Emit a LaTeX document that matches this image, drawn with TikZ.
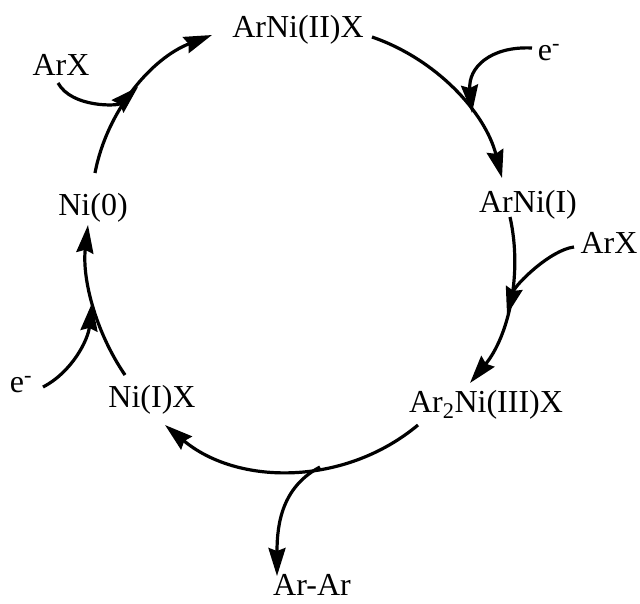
\documentclass[tikz,border=0pt]{standalone}
\usepackage{fontspec}
\setmainfont{Liberation Serif}
\usetikzlibrary{arrows.meta}
\begin{document}
\begin{tikzpicture}[x=1pt,y=-1pt,
  lbl/.style={anchor=base, inner sep=0pt, font=\fontsize{32}{38}\selectfont},
  rxn/.style={line width=3.2pt, -{Stealth[length=28pt,width=17pt,inset=3pt]}}]
\useasboundingbox (0,0) rectangle (640,603);
% species
\node[lbl] (arni2) at (298,37) {ArNi(II)X};
\node[lbl] (arx1)  at (61,75)  {ArX};
\node[lbl] (ni0)   at (93,215) {Ni(0)};
\node[lbl] (e1)    at (549,60) {e\textsuperscript{-}};
\node[lbl] (arni1) at (528,212) {ArNi(I)};
\node[lbl] (arx2)  at (609,253) {ArX};
\node[lbl] (ar2ni3) at (486,412) {Ar\textsubscript{2}Ni(III)X};
\node[lbl] (ni1x)  at (152,407) {Ni(I)X};
\node[lbl] (e2)    at (21,392) {e\textsuperscript{-}};
\node[lbl] (arar)  at (312,595) {Ar-Ar};
% junctions on the cycle
\coordinate (j1) at (138,87);
\coordinate (j2) at (472,113);
\coordinate (j3) at (507,315);
\coordinate (j4) at (320,467);
\coordinate (j5) at (92,303);
% main cycle
\draw[rxn] ([shift={(2,-42)}]ni0.base) .. controls +(12,-63) and +(-60,23) .. ([shift={(-86,-2)}]arni2.base);
\draw[rxn] ([shift={(74,0)}]arni2.base) .. controls +(64,22) and +(-17,-66) .. ([shift={(-26,-34)}]arni1.base);
\draw[rxn] ([shift={(-18,5)}]arni1.base) .. controls +(13,58) and +(38,-46) .. ([shift={(-16,-29)}]ar2ni3.base);
\draw[rxn] ([shift={(-68,13)}]ar2ni3.base) .. controls +(-73,61) and +(73,61) .. ([shift={(13,18)}]ni1x.base);
\draw[rxn] ([shift={(-27,-32)}]ni1x.base) .. controls +(-30,-44) and +(-6,53) .. ([shift={(-5,10)}]ni0.base);
% side branches
\draw[rxn] ([shift={(-3,8)}]arx1.base) .. controls +(14,25) and +(-20,19) .. (j1);
\draw[rxn] ([shift={(-17,-12)}]e1.base) .. controls +(-42,-2) and +(-4,-45) .. (j2);
\draw[rxn] ([shift={(-35,-6)}]arx2.base) .. controls +(-24,3) and +(8,-30) .. (j3);
\draw[rxn] (j4) .. controls +(-38,20) and +(0,-52) .. ([shift={(-35,-19)}]arar.base);
\draw[rxn] ([shift={(22,-5)}]e2.base) .. controls +(29,-15) and +(-4,37) .. (j5);
\end{tikzpicture}
\end{document}
